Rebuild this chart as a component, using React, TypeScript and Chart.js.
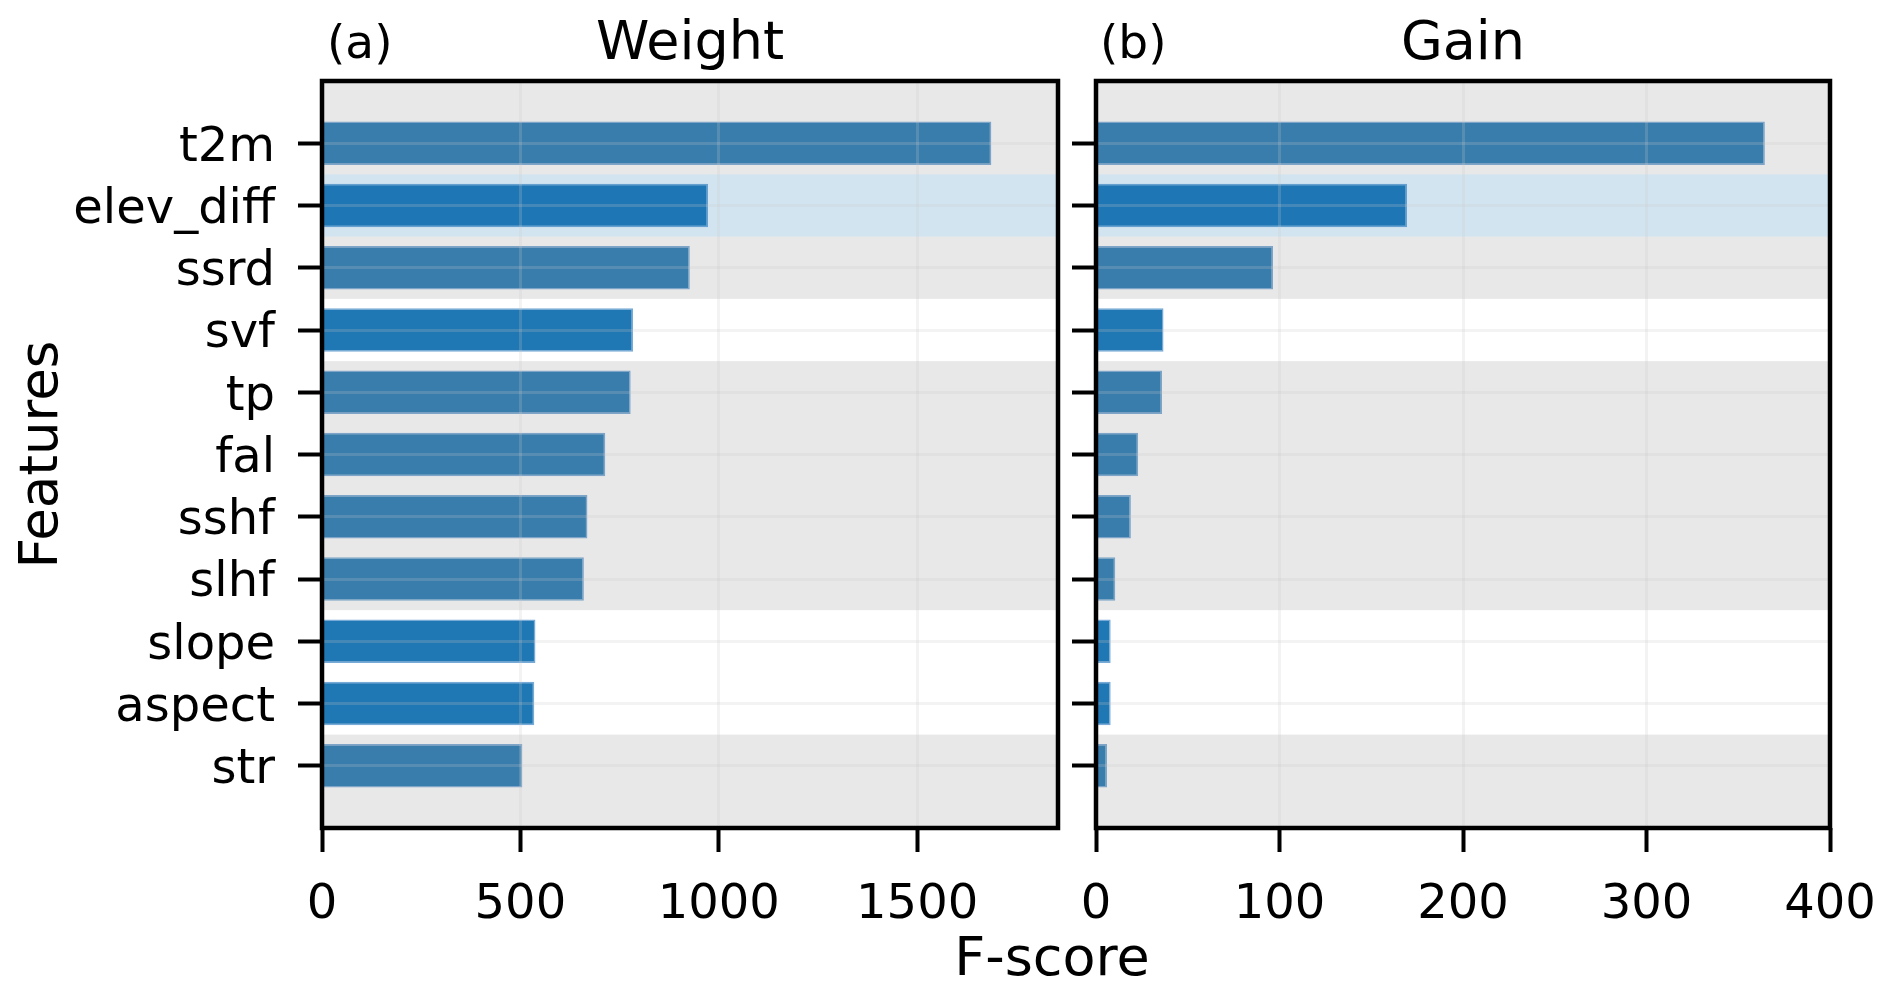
import React, { useEffect, useRef } from 'react';
import { Chart, registerables } from 'chart.js';

Chart.register(...registerables);

// ---------------- data ----------------
const features = ['t2m', 'elev_diff', 'ssrd', 'svf', 'tp', 'fal', 'sshf', 'slhf', 'slope', 'aspect', 'str'];
// feature group: ERA5 meteorological, terrain, highlighted
const featureGroup = ['ERA5', 'highlight', 'ERA5', 'terrain', 'ERA5', 'ERA5', 'ERA5', 'ERA5', 'terrain', 'terrain', 'ERA5'];
const weightScores = [1687, 973, 927, 784, 778, 714, 669, 660, 538, 535, 505];
const gainScores = [364.5, 169.5, 96.5, 36.8, 36, 23, 19, 10.5, 8, 8, 6];
const weightTicks = [0, 500, 1000, 1500];
const gainTicks = [0, 100, 200, 300, 400];
const weightMax = 1855;
const gainMax = 400;
const panelTitles = ['Weight', 'Gain'];
const panelTags = ['(a)', '(b)'];
const xAxisTitle = 'F-score';
const yAxisTitle = 'Features';

// ---------------- style ----------------
const FONT = 'DejaVu Sans';
const BAR_COLOR = '#1f77b4';
const BAR_EDGE = 'rgba(120,170,215,1)';
const GRID_COLOR = 'rgba(200,200,200,0.22)';
const groupOverlay: Record<string, string | null> = {
  ERA5: 'rgba(150,150,150,0.22)',
  highlight: 'rgba(31,119,180,0.2)',
  terrain: null,
};

const bandPlugin = {
  id: 'bands',
  afterDatasetsDraw(chart: any) {
    const { ctx, chartArea: a, scales } = chart;
    const y = scales.y;
    const n = features.length;
    const segs: [number, number, string][] = [];
    const push = (s: number, e: number, g: string) => {
      const last = segs[segs.length - 1];
      if (last && last[2] === g) last[1] = e;
      else segs.push([s, e, g]);
    };
    push(-1, -0.5, 'ERA5');
    features.forEach((_, i) => push(i - 0.5, i + 0.5, featureGroup[i]));
    push(n - 0.5, n, 'ERA5');
    ctx.save();
    for (const [s, e, g] of segs) {
      const c = groupOverlay[g];
      if (!c) continue;
      const p0 = y.getPixelForValue(s);
      const p1 = y.getPixelForValue(e);
      ctx.fillStyle = c;
      ctx.fillRect(a.left, Math.min(p0, p1), a.right - a.left, Math.abs(p1 - p0));
    }
    ctx.restore();
  },
  afterDraw(chart: any) {
    const { ctx, chartArea: a } = chart;
    ctx.save();
    ctx.strokeStyle = '#000';
    ctx.lineWidth = 4.5;
    ctx.strokeRect(a.left, a.top, a.right - a.left, a.bottom - a.top);
    ctx.restore();
  },
};

interface PanelProps {
  values: number[];
  ticks: number[];
  max: number;
  title: string;
  showLabels: boolean;
  width: number;
  left: number;
  yAxisWidth: number;
  padRight: number;
}

function Panel(p: PanelProps) {
  const ref = useRef<HTMLCanvasElement>(null);
  useEffect(() => {
    if (!ref.current) return;
    const tickFont = { family: FONT, size: 48 };
    const titleFont = { family: FONT, size: 53 };
    const chart = new Chart(ref.current, {
      type: 'bar',
      data: {
        datasets: [
          {
            data: features.map((_, i) => ({ x: p.values[i], y: i })) as any,
            backgroundColor: BAR_COLOR,
            borderColor: BAR_EDGE,
            borderWidth: 1.5,
            barPercentage: 0.7,
            categoryPercentage: 1,
          },
        ],
      },
      options: {
        indexAxis: 'y',
        animation: false,
        responsive: false,
        layout: { padding: { left: 0, right: p.padRight, top: 0, bottom: 0 } },
        plugins: {
          legend: { display: false },
          tooltip: { enabled: false },
          title: {
            display: true,
            text: p.title,
            fullSize: false,
            color: '#000',
            font: { family: FONT, size: 54, weight: 'normal' },
            padding: { top: 12.5, bottom: 3.7 },
          },
        },
        scales: {
          x: {
            type: 'linear',
            min: 0,
            max: p.max,
            offset: false,
            afterBuildTicks: (ax: any) => {
              ax.ticks = p.ticks.map((v) => ({ value: v }));
            },
            afterFit: (s: any) => {
              s.height = 168;
            },
            grid: { z: 1, offset: false, color: GRID_COLOR, lineWidth: 3, tickColor: '#000', tickWidth: 4, tickLength: 24 },
            border: { display: false },
            ticks: {
              color: '#000',
              font: { family: FONT, size: 48, lineHeight: 2.24 },
              padding: 0,
              maxRotation: 0,
              autoSkip: false,
              callback: (v: any) => String(v),
            },
          },
          y: {
            type: 'linear',
            min: -1,
            max: features.length,
            reverse: true,
            offset: false,
            afterBuildTicks: (ax: any) => {
              ax.ticks = features.map((_, i) => ({ value: i }));
            },
            afterFit: (s: any) => {
              s.width = p.yAxisWidth;
            },
            grid: { z: 1, offset: false, color: GRID_COLOR, lineWidth: 3, tickColor: '#000', tickWidth: 4, tickLength: 24 },
            border: { display: false },
            ticks: {
              display: p.showLabels,
              color: '#000',
              font: tickFont,
              padding: 23,
              labelOffset: 5,
              autoSkip: false,
              callback: (v: any) => features[Math.round(Number(v))] ?? '',
            },
            title: {
              display: p.showLabels,
              text: yAxisTitle,
              color: '#000',
              font: titleFont,
              padding: { top: 11.7, bottom: 0 },
            },
          },
        },
      } as any,
      plugins: [bandPlugin],
    });
    return () => chart.destroy();
  }, []);
  return (
    <canvas
      ref={ref}
      width={p.width}
      height={996}
      style={{ position: 'absolute', left: p.left, top: 0, width: p.width, height: 996 }}
    />
  );
}

const textStyle: React.CSSProperties = {
  position: 'absolute',
  fontFamily: FONT,
  color: '#000',
  whiteSpace: 'nowrap',
};

export default function App() {
  return (
    <div
      style={{
        position: 'fixed',
        left: 0,
        top: 0,
        width: 1892,
        height: 996,
        background: '#fff',
        overflow: 'hidden',
      }}
    >
      <Panel values={weightScores} ticks={weightTicks} max={weightMax} title={panelTitles[0]} showLabels={true} width={1070} left={0} yAxisWidth={322} padRight={12} />
      <Panel values={gainScores} ticks={gainTicks} max={gainMax} title={panelTitles[1]} showLabels={false} width={822} left={1070} yAxisWidth={26} padRight={62} />
      <div style={{ ...textStyle, left: 327, top: 18, fontSize: 47, lineHeight: '47px' }}>{panelTags[0]}</div>
      <div style={{ ...textStyle, left: 1100, top: 18, fontSize: 47, lineHeight: '47px' }}>{panelTags[1]}</div>
      <div style={{ ...textStyle, left: 852, width: 400, textAlign: 'center', top: 930, fontSize: 54, lineHeight: '54px' }}>{xAxisTitle}</div>
    </div>
  );
}
